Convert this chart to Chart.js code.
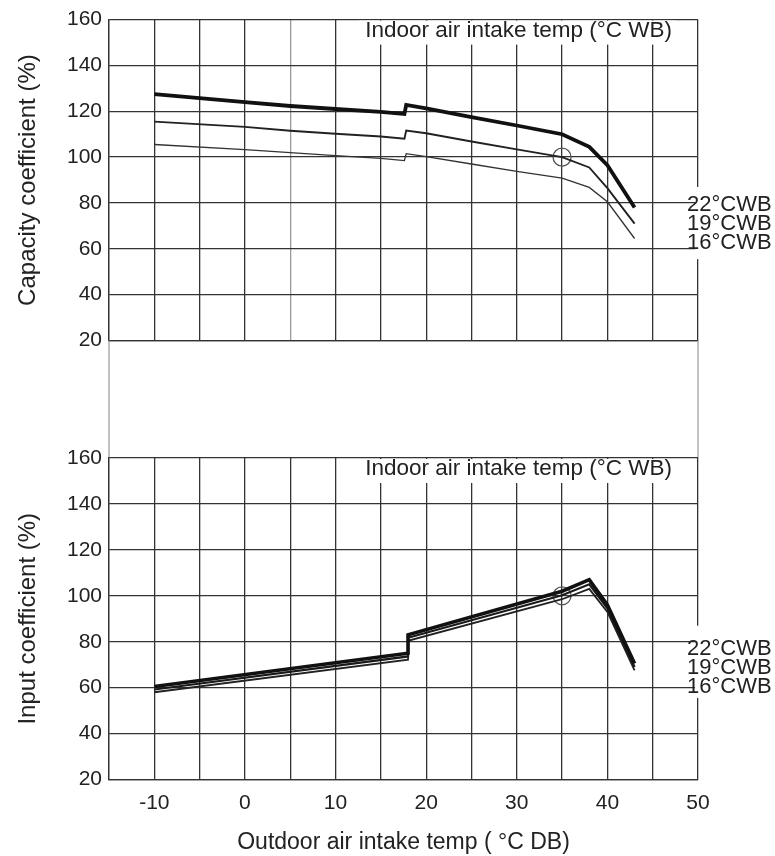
<!DOCTYPE html>
<html lang="en">
<head>
<meta charset="UTF-8">
<title>Capacity / input coefficient</title>
<script src="https://cdn.jsdelivr.net/npm/chart.js@4.4.0/dist/chart.umd.min.js"></script>
<style>
  html, body { margin: 0; padding: 0; background: #fff; }
  #wrap { position: relative; width: 775px; height: 856px; }
  #wrap canvas { position: absolute; left: 0; top: 0; }
</style>
</head>
<body>
<div id="wrap">
  <canvas id="capChart" width="775" height="856"></canvas>
  <canvas id="inpChart" width="775" height="856"></canvas>
</div>
<script>
// ---- data (outdoor temp in °C DB, coefficient in %) ----
var capX  = [-10, 0, 5, 10, 15, 17.6, 17.8, 20, 25, 30, 35, 38, 40, 43];
var cap22 = [127.5, 124, 122.3, 121, 119.7, 118.8, 122.8, 121.3, 117.5, 113.8, 110, 104.5, 96.5, 78];
var cap19 = [115.5, 113.2, 111.5, 110.2, 109, 108, 111.6, 110.4, 106.8, 103.4, 100, 95.5, 86.5, 71];
var cap16 = [105.5, 103.3, 102, 100.7, 99.5, 98.5, 101.5, 100.2, 97, 93.8, 90.8, 86.8, 80.5, 64.5];

var inpX  = [-10, 18, 18, 35, 38, 40, 43];
var inp22 = [60.5, 75, 83, 102, 107, 96, 70.5];
var inp19 = [59.2, 73.6, 81.7, 100.2, 105, 94.5, 69];
var inp16 = [58, 72.2, 80.4, 98.5, 103, 93, 67.5];

var ratedX = [35];
var ratedY = [100];

var wbLabels = ['22°CWB', '19°CWB', '16°CWB'];
var xMin = -15, xMax = 50, xStep = 5;
var yMin = 20, yMax = 160, yStep = 20;

var FONT = "'Liberation Sans', Arial, sans-serif";
var INK = '#222';

function pts(xs, ys) {
  return xs.map(function (x, i) { return { x: x, y: ys[i] }; });
}

function curve(xs, ys, w, col) {
  return { data: pts(xs, ys), borderColor: col, borderWidth: w, pointRadius: 0,
           tension: 0, fill: false, borderJoinStyle: 'miter' };
}

function ratedMark() {
  return { data: pts(ratedX, ratedY), showLine: false, pointRadius: 9,
           pointBorderWidth: 1.3, pointBorderColor: '#555',
           pointBackgroundColor: 'rgba(0,0,0,0)' };
}

// header text, right-hand WB labels and the frame through the gap
var panelDeco = {
  id: 'panelDeco',
  afterDraw: function (chart, args, opts) {
    var ctx = chart.ctx, a = chart.chartArea;
    var xs = chart.scales.x, ys = chart.scales.y;
    ctx.save();
    var x0 = xs.getPixelForValue(12.6), x1 = xs.getPixelForValue(47.6);
    ctx.fillStyle = '#fff';
    ctx.fillRect(x0, a.top + 1, x1 - x0, 24);
    var g0 = ys.getPixelForValue(87), g1 = ys.getPixelForValue(55.5);
    ctx.fillRect(a.right - 3, g0, 6, g1 - g0);

    ctx.fillStyle = INK;
    ctx.font = '22.5px ' + FONT;
    ctx.textAlign = 'center';
    ctx.textBaseline = 'alphabetic';
    ctx.fillText('Indoor air intake temp (°C WB)', xs.getPixelForValue(30.2), a.top + 17);

    ctx.font = '22px ' + FONT;
    ctx.textAlign = 'left';
    wbLabels.forEach(function (t, i) {
      ctx.fillText(t, a.right - 11, ys.getPixelForValue(opts.labelAt[i]));
    });

    if (opts.gap) {
      ctx.strokeStyle = '#999';
      ctx.lineWidth = 1.2;
      ctx.beginPath();
      ctx.moveTo(a.left, a.bottom); ctx.lineTo(a.left, a.bottom + opts.gap);
      ctx.moveTo(a.right, a.bottom); ctx.lineTo(a.right, a.bottom + opts.gap);
      ctx.stroke();
    }
    ctx.restore();
  }
};

function makeChart(id, datasets, o) {
  return new Chart(document.getElementById(id), {
    type: 'line',
    data: { datasets: datasets },
    plugins: [panelDeco],
    options: {
      responsive: false,
      animation: false,
      events: [],
      layout: { padding: o.padding },
      plugins: {
        legend: { display: false },
        tooltip: { enabled: false },
        panelDeco: { labelAt: o.labelAt, gap: o.gap }
      },
      scales: {
        x: {
          type: 'linear', min: xMin, max: xMax,
          afterFit: function (s) { s.height = o.xHeight; },
          ticks: { display: o.showX, stepSize: xStep, autoSkip: false, padding: 11,
                   color: INK, font: { family: FONT, size: 21 },
                   callback: function (v) { return v % 10 === 0 ? v : ''; } },
          grid: { color: o.xGridColor, lineWidth: 1.3, drawTicks: false },
          border: { color: '#333', width: 1.3 },
          title: { display: o.showX, text: 'Outdoor air intake temp ( °C DB)',
                   color: INK, font: { family: FONT, size: 23 }, padding: { top: 0, bottom: 0 } }
        },
        y: {
          min: yMin, max: yMax,
          afterFit: function (s) { s.width = 109; },
          ticks: { stepSize: yStep, padding: 7, color: INK, font: { family: FONT, size: 21 } },
          grid: { color: '#333', lineWidth: 1.3, drawTicks: false },
          border: { color: '#333', width: 1.3 },
          title: { display: true, text: o.yTitle, color: INK,
                   font: { family: FONT, size: 24 }, padding: { top: 14, bottom: 0 } }
        }
      }
    }
  });
}

makeChart('capChart', [
  curve(capX, cap22, 3.8, '#111'),
  curve(capX, cap19, 1.9, '#222'),
  curve(capX, cap16, 1.3, '#333'),
  ratedMark()
], {
  padding: { top: 19, right: 77, bottom: 515.5, left: 0 },
  xHeight: 0, showX: false,
  xGridColor: function (c) { return c.tick && c.tick.value === 5 ? '#999' : '#333'; },
  yTitle: 'Capacity coefficient (%)',
  labelAt: [76.7, 68.3, 60], gap: 117.5
});

makeChart('inpChart', [
  curve(inpX, inp22, 3.6, '#111'),
  curve(inpX, inp19, 2.2, '#1a1a1a'),
  curve(inpX, inp16, 1.8, '#222'),
  ratedMark()
], {
  padding: { top: 458, right: 77, bottom: 0, left: 0 },
  xHeight: 76.5, showX: true,
  xGridColor: '#333',
  yTitle: 'Input coefficient (%)',
  labelAt: [74.3, 66.1, 57.8], gap: 0
});
</script>
</body>
</html>
